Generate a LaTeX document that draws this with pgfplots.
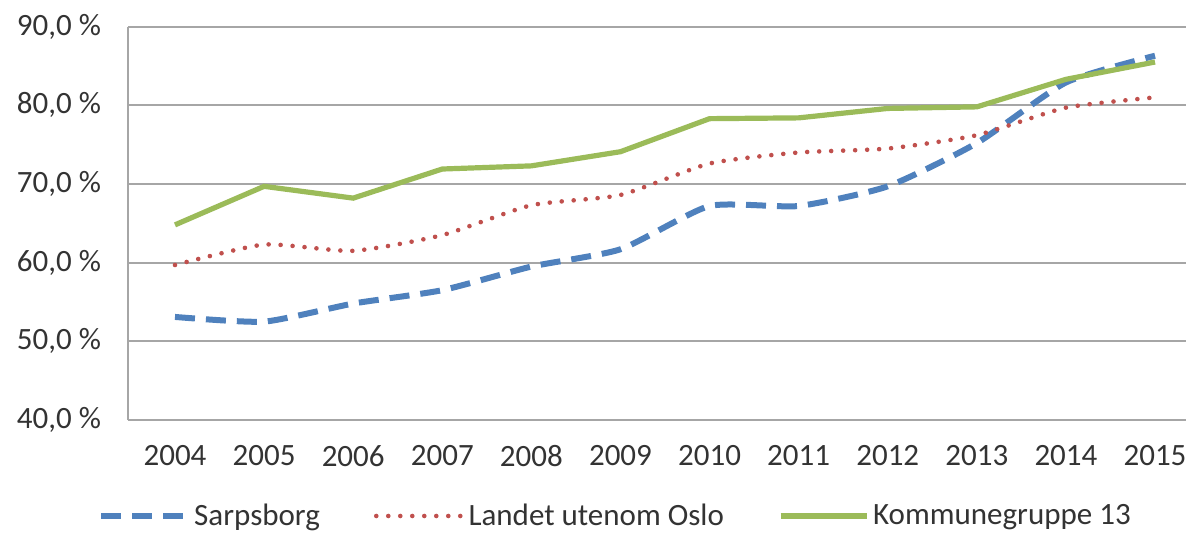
\documentclass[border=0pt]{standalone}
\usepackage{pgfplots}
\pgfplotsset{compat=1.18}
\usepackage{fontspec}
\setmainfont{Carlito}
\definecolor{cblue}{HTML}{4F81BD}
\definecolor{cred}{HTML}{C0504D}
\definecolor{cgreen}{HTML}{9BBB59}
\definecolor{cgrid}{HTML}{A6A6A6}
\begin{document}
\begin{tikzpicture}
\begin{axis}[
  scale only axis,
  width=537pt, height=196.7pt,
  xmin=2003.4725, xmax=2015.5275,
  ymin=40, ymax=90,
  axis x line*=bottom, axis y line*=left,
  axis line style={cgrid, line width=1pt},
  ymajorgrids, grid style={cgrid, line width=1pt},
  major tick length=0pt,
  xtick={2004,2005,2006,2007,2008,2009,2010,2011,2012,2013,2014,2015},
  xticklabels={2004,2005,2006,2007,2008,2009,2010,2011,2012,2013,2014,2015},
  ytick={40,50,60,70,80,90},
  yticklabels={{40,0 \%},{50,0 \%},{60,0 \%},{70,0 \%},{80,0 \%},{90,0 \%}},
  tick label style={font=\fontsize{15.5}{18}\selectfont, text=black!80},
  xticklabel style={yshift=-9pt},
  yticklabel style={xshift=-10pt},
  legend columns=3,
  legend style={draw=none, fill=none, at={(0.4548,-0.244)}, anchor=center,
    font=\fontsize{15.5}{18}\selectfont, text=black!80,
    /tikz/every even column/.append style={column sep=25pt}},
  legend image code/.code={\draw[#1] (0pt,0pt) -- (43pt,0pt);},
]
\addplot[cblue, line width=3pt, dash pattern=on 10pt off 5.5pt, smooth, tension=0.35] coordinates {
(2004,53.1) (2005,52.5) (2006,54.8) (2007,56.5) (2008,59.5) (2009,61.7)
(2010,67.2) (2011,67.2) (2012,69.7) (2013,75.2) (2014,82.9) (2015,86.3)};
\addlegendentry{Sarpsborg}
\addplot[cred, line width=2.3pt, line cap=round, dash pattern=on 0pt off 6pt, smooth, tension=0.35] coordinates {
(2004,59.7) (2005,62.3) (2006,61.5) (2007,63.5) (2008,67.3) (2009,68.6)
(2010,72.6) (2011,74.0) (2012,74.5) (2013,76.2) (2014,79.7) (2015,81.0)};
\addlegendentry{Landet utenom Oslo}
\addplot[cgreen, line width=2.6pt] coordinates {
(2004,64.8) (2005,69.7) (2006,68.2) (2007,71.9) (2008,72.3) (2009,74.1)
(2010,78.3) (2011,78.4) (2012,79.6) (2013,79.8) (2014,83.3) (2015,85.5)};
\addlegendentry{Kommunegruppe 13}
\end{axis}
\pgfresetboundingbox
\useasboundingbox (-64pt,-57.5pt) rectangle (529pt,210pt);
\end{tikzpicture}
\end{document}
